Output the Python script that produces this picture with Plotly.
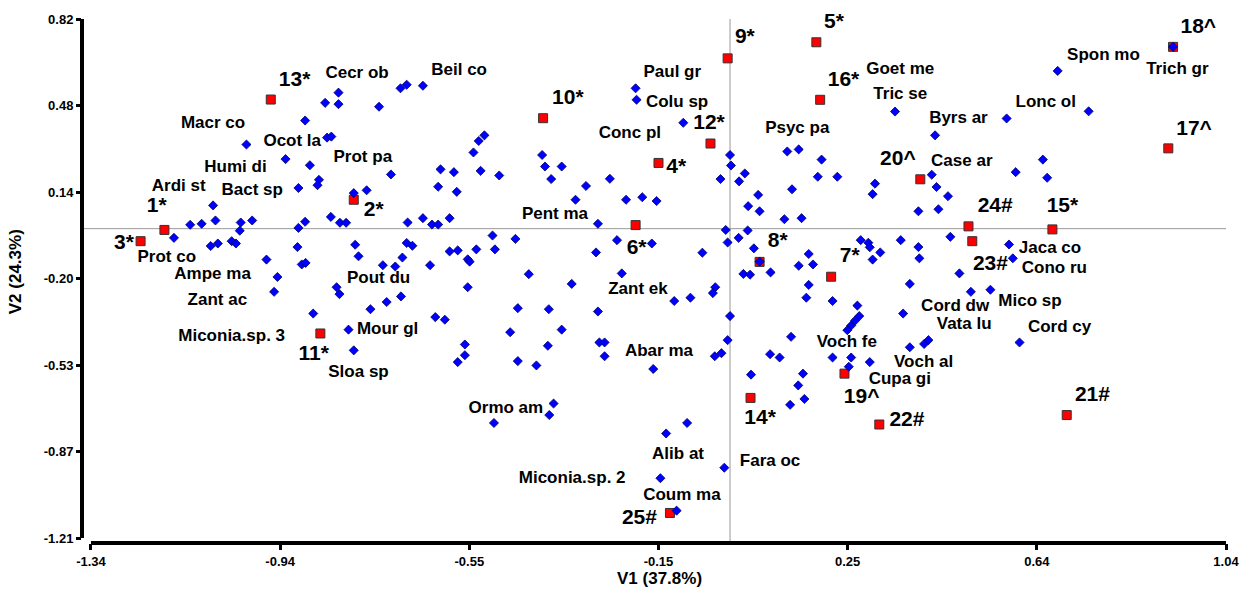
import numpy as np
import plotly.graph_objects as go

# ---- species (blue diamonds) ----
sp_x = [-0.821,-0.849,-0.821,-0.736,-0.691,-0.678,-0.644,-0.891,-1.014,-0.845,-0.836,-0.932,-0.881,-0.711,-0.862,-0.865,-0.905,-0.789,-0.762,-0.607,
        -0.579,-0.612,-0.573,-1.084,-1.132,-1.108,-1.079,-1.026,-1.002,-1.028,-1.166,-1.089,-1.074,-1.045,-1.036,-0.972,-0.949,-0.905,-0.891,-0.907,
        -0.898,-0.890,-0.837,-0.818,-0.805,-0.786,-0.779,-0.728,-0.702,-0.687,-0.678,-0.666,-0.676,-0.644,-0.625,-0.612,-0.588,-0.629,-0.588,-0.571,
        -0.550,-0.546,-0.198,-0.196,-0.098,-0.515,-0.527,-0.538,-0.523,-0.484,-0.394,-0.388,-0.353,-0.375,-0.302,-0.252,-0.324,-0.218,-0.184,-0.154,
        -0.277,0.000,0.002,-0.020,0.019,0.031,0.059,0.038,0.062,0.120,0.144,0.192,0.184,0.225,0.130,0.114,0.150,-0.009,-0.005,0.018,
        0.037,0.050,0.062,0.085,0.028,0.042,0.144,0.165,0.174,-0.058,-0.164,-0.237,-0.281,-0.227,-0.422,-0.450,-0.498,-0.493,-0.532,0.687,
        0.752,0.580,0.346,0.430,0.656,0.665,0.599,0.423,0.433,0.457,0.437,0.395,0.304,0.299,0.274,0.290,0.293,0.315,0.299,0.358,
        0.395,0.397,0.462,0.481,0.585,0.593,0.929,-0.956,-0.825,-0.819,-0.874,-0.754,-0.720,-0.690,-0.800,-0.789,-0.618,-0.598,-0.556,-0.556,
        -0.571,-0.550,-0.332,-0.445,-0.380,-0.277,-0.461,-0.353,-0.382,-0.445,-0.406,-0.274,-0.263,-0.263,-0.161,-0.117,-0.083,-0.031,-0.036,0.000,
        -0.005,-0.018,-0.032,-0.370,-0.379,-0.495,-0.090,-0.134,-0.146,-0.012,-0.112,0.165,0.160,0.215,0.128,0.084,0.104,0.215,0.044,0.153,
        0.143,0.156,0.126,0.377,0.505,0.546,0.267,0.271,0.262,0.254,0.246,0.363,0.377,0.407,0.416,0.607,0.254,0.249,0.293]
sp_y = [0.532,0.492,0.487,0.477,0.549,0.563,0.559,0.423,0.329,0.356,0.360,0.272,0.248,0.212,0.191,0.170,0.159,0.139,0.150,0.232,
        0.221,0.164,0.144,0.091,0.015,0.019,0.032,0.024,0.032,-0.008,-0.036,-0.068,-0.058,-0.049,-0.058,-0.121,-0.189,0.003,0.027,-0.072,
        -0.140,-0.134,0.046,0.023,0.023,-0.063,-0.108,-0.143,-0.148,-0.113,-0.056,-0.067,0.024,0.041,0.016,0.016,0.041,-0.143,-0.089,-0.085,
        -0.120,-0.129,0.549,0.504,0.414,0.365,0.343,0.298,0.226,0.208,0.288,0.243,0.243,0.194,0.167,0.195,0.113,0.113,0.123,0.108,
        0.019,0.288,0.247,0.194,0.185,0.216,0.132,0.088,0.068,0.302,0.310,0.270,0.203,0.203,0.154,0.037,0.041,-0.005,-0.054,-0.036,
        -0.007,-0.077,-0.129,-0.171,-0.177,-0.180,-0.145,-0.099,-0.140,-0.094,-0.058,-0.045,-0.093,-0.175,-0.178,-0.040,-0.027,-0.081,-0.081,0.617,
        0.459,0.431,0.458,0.365,0.270,0.199,0.221,0.211,0.163,0.127,0.076,0.068,0.176,0.135,-0.045,-0.055,-0.073,-0.093,-0.121,-0.045,
        -0.072,-0.116,-0.032,-0.175,-0.062,-0.116,0.711,-0.247,-0.229,-0.256,-0.332,-0.315,-0.287,-0.265,-0.395,-0.476,-0.346,-0.356,-0.453,-0.495,
        -0.522,-0.229,-0.216,-0.311,-0.315,-0.324,-0.405,-0.395,-0.458,-0.518,-0.535,-0.445,-0.445,-0.499,-0.549,-0.283,-0.270,-0.229,-0.252,-0.342,
        -0.436,-0.487,-0.499,-0.684,-0.729,-0.760,-0.760,-0.801,-0.976,-0.935,-1.103,-0.220,-0.270,-0.283,-0.423,-0.491,-0.504,-0.504,-0.571,-0.567,
        -0.613,-0.666,-0.689,-0.216,-0.247,-0.239,-0.301,-0.342,-0.360,-0.379,-0.397,-0.332,-0.464,-0.451,-0.436,-0.445,-0.504,-0.540,-0.522]

# ---- sites (red squares) ----
site_names = ["1*","2*","3*","4*","5*","6*","7*","8*","9*","10*","11*","12*","13*","14*","15*","16*",
              "17^","18^","19^","20^","21#","22#","23#","24#","25#"]
site_x = [-1.186,-0.789,-1.236,-0.150,0.181,-0.198,0.212,0.062,-0.005,-0.392,-0.859,-0.041,-0.963,0.043,0.676,0.189,
          0.919,0.929,0.240,0.399,0.706,0.313,0.508,0.500,-0.126]
site_y = [-0.005,0.113,-0.049,0.257,0.729,0.014,-0.188,-0.130,0.666,0.432,-0.410,0.333,0.505,-0.662,-0.003,0.504,
          0.314,0.711,-0.567,0.193,-0.729,-0.766,-0.049,0.009,-1.112]
site_lab_x = [-1.202,-0.747,-1.271,-0.113,0.218,-0.196,0.251,0.100,0.031,-0.340,-0.873,-0.044,-0.913,0.063,0.697,0.238,
              0.973,0.982,0.276,0.352,0.760,0.371,0.546,0.556,-0.190]
site_lab_y = [0.085,0.069,-0.059,0.237,0.804,-0.077,-0.110,-0.051,0.746,0.509,-0.492,0.412,0.580,-0.745,0.085,0.579,
              0.387,0.785,-0.660,0.269,-0.654,-0.751,-0.142,0.085,-1.134]

# ---- species labels ----
lab_text = ["Cecr ob","Beil co","Macr co","Ocot la","Prot pa","Humi di","Ardi st","Bact sp","Prot co","Ampe ma",
            "Zant ac","Pout du","Miconia.sp. 3","Mour gl","Sloa sp","Paul gr","Colu sp","Conc pl","Psyc pa","Pent ma",
            "Zant ek","Abar ma","Ormo am","Alib at","Fara oc","Miconia.sp. 2","Coum ma","Goet me","Tric se","Spon mo",
            "Trich gr","Lonc ol","Byrs ar","Case ar","Jaca co","Cono ru","Cord dw","Mico sp","Vata lu","Cord cy",
            "Voch fe","Voch al","Cupa gi"]
lab_x = [-0.782,-0.568,-1.084,-0.918,-0.770,-1.037,-1.156,-1.002,-1.181,-1.085,
         -1.075,-0.737,-1.045,-0.718,-0.779,-0.121,-0.111,-0.210,0.141,-0.367,
         -0.193,-0.149,-0.470,-0.109,0.084,-0.331,-0.101,0.357,0.357,0.783,
         0.938,0.662,0.479,0.486,0.671,0.680,0.472,0.629,0.491,0.691,
         0.245,0.406,0.356]
lab_y = [0.605,0.618,0.412,0.340,0.277,0.238,0.165,0.147,-0.112,-0.180,
         -0.281,-0.195,-0.421,-0.395,-0.564,0.610,0.492,0.370,0.389,0.053,
         -0.237,-0.483,-0.706,-0.885,-0.911,-0.978,-1.046,0.623,0.522,0.677,
         0.623,0.493,0.431,0.263,-0.080,-0.155,-0.307,-0.287,-0.377,-0.386,
         -0.447,-0.526,-0.590]

x_ticktext = ["-1.34","-0.94","-0.55","-0.15","0.25","0.64","1.04"]
y_ticktext = ["0.82","0.48","0.14","-0.20","-0.53","-0.87","-1.21"]
x_lo, x_hi = -1.34, 1.04
y_lo, y_hi = -1.21, 0.82

FONT = "Arial, Liberation Sans, sans-serif"

fig = go.Figure()
fig.add_trace(go.Scatter(x=site_x, y=site_y, mode="markers",
                         marker=dict(symbol="square", size=9, color="#ff0000",
                                     line=dict(color="#333333", width=1)),
                         hoverinfo="text", text=site_names, showlegend=False))
fig.add_trace(go.Scatter(x=sp_x, y=sp_y, mode="markers",
                         marker=dict(symbol="diamond", size=7, color="#0000ff",
                                     line=dict(color="#000066", width=0.8)),
                         showlegend=False))
fig.add_trace(go.Scatter(x=lab_x, y=lab_y, mode="text", text=lab_text,
                         textposition="middle center",
                         textfont=dict(family=FONT, size=17, color="#000000", weight="bold"),
                         cliponaxis=False, hoverinfo="skip", showlegend=False))
fig.add_trace(go.Scatter(x=site_lab_x, y=site_lab_y, mode="text", text=site_names,
                         textposition="middle center",
                         textfont=dict(family=FONT, size=21, color="#000000", weight="bold"),
                         cliponaxis=False, hoverinfo="skip", showlegend=False))

# ranges so that the detached axes sit just outside the data frame
xr = [x_lo - 9 / 477.7, x_hi]
yr = [y_lo - 5 / 257.1, y_hi]

fig.update_xaxes(range=xr, tickvals=list(np.linspace(x_lo, x_hi, 7)), ticktext=x_ticktext,
                 ticks="outside", ticklen=6, tickwidth=3, tickcolor="black",
                 showgrid=False, zeroline=False, showline=False,
                 tickfont=dict(family=FONT, size=13, color="black", weight="bold"))
fig.update_yaxes(range=yr, tickvals=list(np.linspace(y_hi, y_lo, 7)), ticktext=y_ticktext,
                 ticks="outside", ticklen=5, tickwidth=3, tickcolor="black",
                 showgrid=False, zeroline=False, showline=False,
                 tickfont=dict(family=FONT, size=13, color="black", weight="bold"))

shapes = [
    dict(type="line", xref="paper", yref="y", x0=0, x1=0, y0=y_lo, y1=y_hi,
         line=dict(color="black", width=4), layer="above"),
    dict(type="line", xref="x", yref="paper", x0=x_lo, x1=x_hi, y0=0, y1=0,
         line=dict(color="black", width=4), layer="above"),
    dict(type="line", xref="paper", yref="y", x0=0, x1=1, y0=0, y1=0,
         line=dict(color="#999999", width=1), layer="below"),
    dict(type="line", xref="x", yref="paper", x0=0, x1=0, y0=0, y1=1,
         line=dict(color="#999999", width=1), layer="below"),
]

fig.update_layout(
    width=1251, height=596,
    margin=dict(l=82, r=23, t=16, b=53),
    paper_bgcolor="white", plot_bgcolor="white",
    shapes=shapes,
    annotations=[
        dict(text="V1 (37.8%)", xref="paper", yref="paper", x=0.5044, y=-0.068,
             xanchor="center", yanchor="middle", showarrow=False,
             font=dict(family=FONT, size=17, color="black", weight="bold")),
        dict(text="V2 (24.3%)", xref="paper", yref="paper", x=-0.058, y=0.518,
             xanchor="center", yanchor="middle", showarrow=False, textangle=-90,
             font=dict(family=FONT, size=17, color="black", weight="bold")),
    ],
)

fig.write_html("out.html")
